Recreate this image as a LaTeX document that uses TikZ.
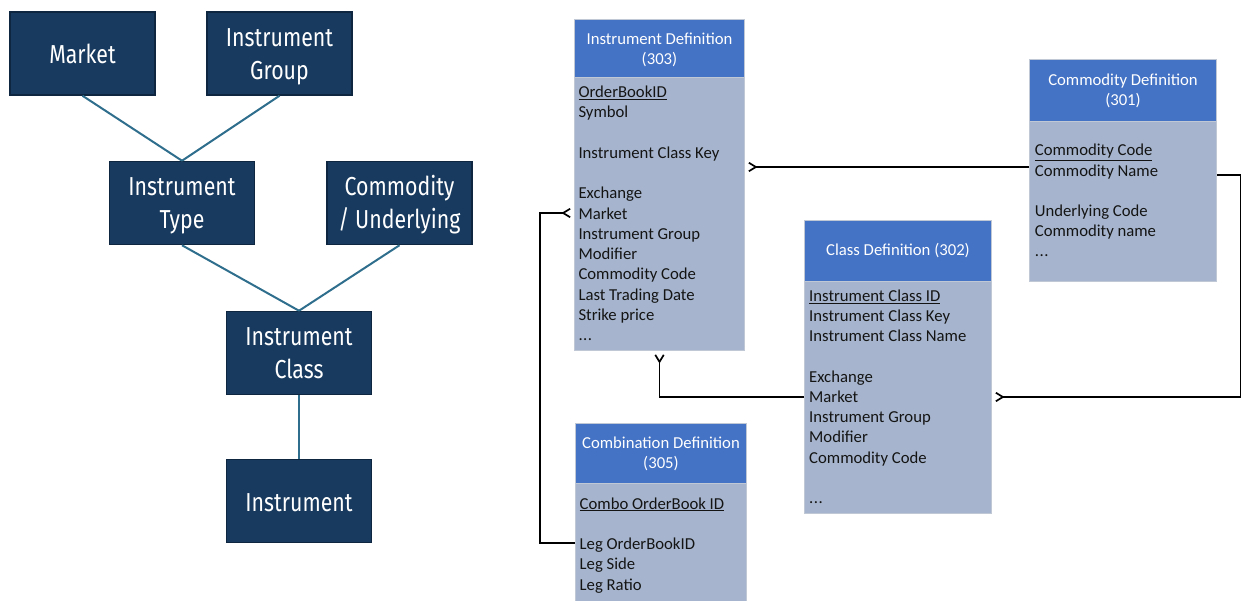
\documentclass[tikz,border=0pt]{standalone}
\usepackage{fontspec}
\setmainfont{Carlito}
\newfontfamily\treefont[FakeStretch=0.82]{Fira Sans}
\usetikzlibrary{arrows.meta}
\definecolor{treefill}{RGB}{24,58,94}
\definecolor{treedraw}{RGB}{14,38,64}
\definecolor{treeline}{RGB}{47,110,140}
\definecolor{hdrfill}{RGB}{68,114,196}
\definecolor{bodyfill}{RGB}{166,181,205}
\definecolor{boxdraw}{RGB}{192,200,214}
\definecolor{rowtext}{RGB}{20,20,20}
\newcommand{\myell}{.\kern0.5pt.\kern0.5pt.}
\tikzset{
  treebox/.style={draw=treedraw, fill=treefill, line width=1.5pt, minimum width=145pt,
    minimum height=83pt, text=white, align=center, inner sep=0pt,
    font=\treefont\fontsize{26}{33}\selectfont},
  tree one/.style={text height=51.5pt, text depth=31.5pt},
  tree two/.style={text height=67.5pt, text depth=15.5pt},
  treeedge/.style={draw=treeline, line width=2pt},
  hdr/.style={draw=boxdraw, fill=hdrfill, line width=1pt, anchor=north west, inner sep=0pt,
    text=white, align=center, font=\fontsize{16.7}{20.3}\selectfont},
  bdy/.style={draw=boxdraw, fill=bodyfill, line width=1pt, anchor=north west, inner sep=0pt},
  rowtxt/.style={anchor=base west, inner sep=0pt, text=rowtext, font=\fontsize{16.7}{20.3}\selectfont},
  conn/.style={draw=black, line width=1.4pt},
  crow/.style={-{Straight Barb[reversed,length=7pt,width=8.5pt,line width=1.7pt]}, shorten >=3pt}
}
\begin{document}
\begin{tikzpicture}[x=1pt,y=-1pt]
\useasboundingbox (0,0) rectangle (1242,601);
% ---------- left tree ----------
\node[treebox, tree one] (market) at (82.5,53.5) {Market};
\node[treebox, tree two] (igroup) at (279.5,53.5) {Instrument\\Group};
\node[treebox, tree two] (itype) at (182,203) {Instrument\\Type};
\node[treebox, tree two] (commod) at (399.5,203) {Commodity\\/ Underlying};
\node[treebox, tree two] (iclass) at (299,353) {Instrument\\Class};
\node[treebox, tree one] (instr) at (299,501) {Instrument};
\draw[treeedge] (market.south) -- (itype.north);
\draw[treeedge] (igroup.south) -- (itype.north);
\draw[treeedge] (itype.south) -- (iclass.north);
\draw[treeedge] (commod.south) -- (iclass.north);
\draw[treeedge] (iclass.south) -- (instr.north);
% ---------- Instrument Definition ----------
\node[hdr, minimum width=170pt, text height=45.5pt, text depth=12.5pt] (idhead) at (574,19) {Instrument Definition\\(303)};
\node[bdy, minimum width=170pt, minimum height=273pt] (idbody) at (574,77) {};
\foreach \t [count=\i] in {\underline{OrderBookID}, Symbol, {}, Instrument Class Key, {}, Exchange, Market, Instrument Group, Modifier, Commodity Code, Last Trading Date, Strike price, \myell}
  \node[rowtxt] (idr\i) at (578.3,{97.3+20.3*(\i-1)}) {\t};
% ---------- Commodity Definition ----------
\node[hdr, minimum width=187pt, text height=46pt, text depth=16pt] (cdhead) at (1029,59) {Commodity Definition\\(301)};
\node[bdy, minimum width=187pt, minimum height=160pt] (cdbody) at (1029,121) {};
\foreach \t [count=\i] in {\underline{Commodity Code}, Commodity Name, {}, Underlying Code, Commodity name, \myell}
  \node[rowtxt] (cdr\i) at (1034.7,{156+20.2*(\i-1)}) {\t};
% ---------- Class Definition ----------
\node[hdr, minimum width=187pt, text height=35pt, text depth=26pt] (clhead) at (804,220) {Class Definition (302)};
\node[bdy, minimum width=187pt, minimum height=232pt] (clbody) at (804,281) {};
\foreach \t [count=\i] in {\underline{Instrument Class ID}, Instrument Class Key, Instrument Class Name, {}, Exchange, Market, Instrument Group, Modifier, Commodity Code, {}, \myell}
  \node[rowtxt] (clr\i) at (809,{301.5+20.2*(\i-1)}) {\t};
% ---------- Combination Definition ----------
\node[hdr, minimum width=171pt, text height=45.3pt, text depth=14.7pt] (cbhead) at (575,423) {Combination Definition\\(305)};
\node[bdy, minimum width=171pt, minimum height=121pt] (cbbody) at (575,483) {};
\foreach \t [count=\i] in {\underline{Combo OrderBook ID}, {}, Leg OrderBookID, Leg Side, Leg Ratio}
  \node[rowtxt] (cbr\i) at (579.5,{509+20.25*(\i-1)}) {\t};
% ---------- connectors ----------
\coordinate (rcorner) at (1240.5,175);
\coordinate (lcorner) at (540,543);
\draw[conn, crow] (cdbody.west |- 0,167) -- (idbody.east |- 0,167);
\draw[conn, crow] (cdbody.east |- 0,175) -- (rcorner) |- (clbody.east |- 0,397);
\draw[conn, crow] (clbody.west |- 0,397) -| (idbody.south);
\draw[conn, crow] (cbbody.west |- 0,543) -- (lcorner) |- (idbody.west |- 0,213);
\end{tikzpicture}
\end{document}
